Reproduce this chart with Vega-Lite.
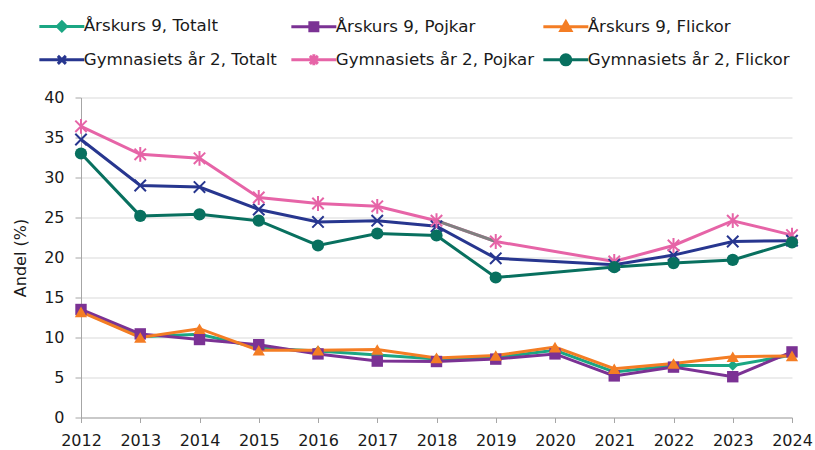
{
  "$schema": "https://vega.github.io/schema/vega-lite/v6.json",
  "autosize": {"type": "none"},
  "width": 711,
  "height": 320,
  "padding": {"left": 81, "top": 97.5, "right": 23, "bottom": 32.5},
  "background": "white",
  "config": {
    "font": "DejaVu Sans",
    "view": {"stroke": null},
    "axis": {"labelFont": "DejaVu Sans", "titleFont": "DejaVu Sans", "labelColor": "#1a1a1a", "titleColor": "#1a1a1a"}
  },
  "data": {
    "values": [
      {"year": 2012, "serie": "Årskurs 9, Totalt", "value": 13.3},
      {"year": 2013, "serie": "Årskurs 9, Totalt", "value": 10.1},
      {"year": 2014, "serie": "Årskurs 9, Totalt", "value": 10.4},
      {"year": 2015, "serie": "Årskurs 9, Totalt", "value": 8.7},
      {"year": 2016, "serie": "Årskurs 9, Totalt", "value": 8.3},
      {"year": 2017, "serie": "Årskurs 9, Totalt", "value": 7.8},
      {"year": 2018, "serie": "Årskurs 9, Totalt", "value": 7.3},
      {"year": 2019, "serie": "Årskurs 9, Totalt", "value": 7.5},
      {"year": 2020, "serie": "Årskurs 9, Totalt", "value": 8.4},
      {"year": 2021, "serie": "Årskurs 9, Totalt", "value": 5.7},
      {"year": 2022, "serie": "Årskurs 9, Totalt", "value": 6.5},
      {"year": 2023, "serie": "Årskurs 9, Totalt", "value": 6.5},
      {"year": 2024, "serie": "Årskurs 9, Totalt", "value": 7.8},
      {"year": 2012, "serie": "Årskurs 9, Pojkar", "value": 13.5},
      {"year": 2013, "serie": "Årskurs 9, Pojkar", "value": 10.45},
      {"year": 2014, "serie": "Årskurs 9, Pojkar", "value": 9.75},
      {"year": 2015, "serie": "Årskurs 9, Pojkar", "value": 9.1},
      {"year": 2016, "serie": "Årskurs 9, Pojkar", "value": 7.95},
      {"year": 2017, "serie": "Årskurs 9, Pojkar", "value": 7.05},
      {"year": 2018, "serie": "Årskurs 9, Pojkar", "value": 7.0},
      {"year": 2019, "serie": "Årskurs 9, Pojkar", "value": 7.3},
      {"year": 2020, "serie": "Årskurs 9, Pojkar", "value": 7.95},
      {"year": 2021, "serie": "Årskurs 9, Pojkar", "value": 5.2},
      {"year": 2022, "serie": "Årskurs 9, Pojkar", "value": 6.3},
      {"year": 2023, "serie": "Årskurs 9, Pojkar", "value": 5.1},
      {"year": 2024, "serie": "Årskurs 9, Pojkar", "value": 8.2},
      {"year": 2012, "serie": "Årskurs 9, Flickor", "value": 13.2},
      {"year": 2013, "serie": "Årskurs 9, Flickor", "value": 10.0},
      {"year": 2014, "serie": "Årskurs 9, Flickor", "value": 11.1},
      {"year": 2015, "serie": "Årskurs 9, Flickor", "value": 8.4},
      {"year": 2016, "serie": "Årskurs 9, Flickor", "value": 8.4},
      {"year": 2017, "serie": "Årskurs 9, Flickor", "value": 8.5},
      {"year": 2018, "serie": "Årskurs 9, Flickor", "value": 7.45},
      {"year": 2019, "serie": "Årskurs 9, Flickor", "value": 7.75},
      {"year": 2020, "serie": "Årskurs 9, Flickor", "value": 8.8},
      {"year": 2021, "serie": "Årskurs 9, Flickor", "value": 6.1},
      {"year": 2022, "serie": "Årskurs 9, Flickor", "value": 6.75},
      {"year": 2023, "serie": "Årskurs 9, Flickor", "value": 7.6},
      {"year": 2024, "serie": "Årskurs 9, Flickor", "value": 7.7},
      {"year": 2012, "serie": "Gymnasiets år 2, Totalt", "value": 34.75},
      {"year": 2013, "serie": "Gymnasiets år 2, Totalt", "value": 29.0},
      {"year": 2014, "serie": "Gymnasiets år 2, Totalt", "value": 28.8},
      {"year": 2015, "serie": "Gymnasiets år 2, Totalt", "value": 26.0},
      {"year": 2016, "serie": "Gymnasiets år 2, Totalt", "value": 24.45},
      {"year": 2017, "serie": "Gymnasiets år 2, Totalt", "value": 24.6},
      {"year": 2018, "serie": "Gymnasiets år 2, Totalt", "value": 23.9},
      {"year": 2019, "serie": "Gymnasiets år 2, Totalt", "value": 19.9},
      {"year": 2021, "serie": "Gymnasiets år 2, Totalt", "value": 19.1},
      {"year": 2022, "serie": "Gymnasiets år 2, Totalt", "value": 20.3},
      {"year": 2023, "serie": "Gymnasiets år 2, Totalt", "value": 22.0},
      {"year": 2024, "serie": "Gymnasiets år 2, Totalt", "value": 22.1},
      {"year": 2012, "serie": "Gymnasiets år 2, Pojkar", "value": 36.4},
      {"year": 2013, "serie": "Gymnasiets år 2, Pojkar", "value": 32.9},
      {"year": 2014, "serie": "Gymnasiets år 2, Pojkar", "value": 32.4},
      {"year": 2015, "serie": "Gymnasiets år 2, Pojkar", "value": 27.5},
      {"year": 2016, "serie": "Gymnasiets år 2, Pojkar", "value": 26.75},
      {"year": 2017, "serie": "Gymnasiets år 2, Pojkar", "value": 26.4},
      {"year": 2018, "serie": "Gymnasiets år 2, Pojkar", "value": 24.6},
      {"year": 2019, "serie": "Gymnasiets år 2, Pojkar", "value": 22.0},
      {"year": 2021, "serie": "Gymnasiets år 2, Pojkar", "value": 19.5},
      {"year": 2022, "serie": "Gymnasiets år 2, Pojkar", "value": 21.5},
      {"year": 2023, "serie": "Gymnasiets år 2, Pojkar", "value": 24.6},
      {"year": 2024, "serie": "Gymnasiets år 2, Pojkar", "value": 22.8},
      {"year": 2012, "serie": "Gymnasiets år 2, Flickor", "value": 33.0},
      {"year": 2013, "serie": "Gymnasiets år 2, Flickor", "value": 25.2},
      {"year": 2014, "serie": "Gymnasiets år 2, Flickor", "value": 25.4},
      {"year": 2015, "serie": "Gymnasiets år 2, Flickor", "value": 24.6},
      {"year": 2016, "serie": "Gymnasiets år 2, Flickor", "value": 21.5},
      {"year": 2017, "serie": "Gymnasiets år 2, Flickor", "value": 23.0},
      {"year": 2018, "serie": "Gymnasiets år 2, Flickor", "value": 22.75},
      {"year": 2019, "serie": "Gymnasiets år 2, Flickor", "value": 17.5},
      {"year": 2021, "serie": "Gymnasiets år 2, Flickor", "value": 18.8},
      {"year": 2022, "serie": "Gymnasiets år 2, Flickor", "value": 19.3},
      {"year": 2023, "serie": "Gymnasiets år 2, Flickor", "value": 19.7},
      {"year": 2024, "serie": "Gymnasiets år 2, Flickor", "value": 21.9}
    ]
  },
  "encoding": {
    "x": {
      "field": "year", "type": "quantitative",
      "scale": {"domain": [2012, 2024], "nice": false, "zero": false},
      "axis": {
        "title": null, "values": [2012,2013,2014,2015,2016,2017,2018,2019,2020,2021,2022,2023,2024],
        "format": "d", "grid": false, "domainColor": "#a6a6a6", "tickColor": "#a6a6a6",
        "tickSize": 5, "labelFontSize": 16, "labelPadding": 10, "labelFlush": false, "labelOverlap": false
      }
    },
    "y": {
      "field": "value", "type": "quantitative",
      "scale": {"domain": [0, 40], "nice": false},
      "axis": {
        "title": "Andel (%)", "titleFontSize": 16, "titleFontWeight": "normal", "titlePadding": 15,
        "values": [0,5,10,15,20,25,30,35,40], "gridColor": "#d9d9d9", "domainColor": "#a6a6a6",
        "tickColor": "#a6a6a6", "tickSize": 6, "labelFontSize": 16, "labelPadding": 11
      }
    }
  },
  "layer": [
    {
      "transform": [{"filter": "datum.year === 2012"}],
      "mark": {"type": "point", "filled": true, "size": 100, "strokeWidth": 3, "opacity": 0},
      "encoding": {
        "fill": {
          "field": "serie", "type": "nominal",
          "scale": {
            "domain": ["Årskurs 9, Totalt", "Årskurs 9, Pojkar", "Årskurs 9, Flickor", "Gymnasiets år 2, Totalt", "Gymnasiets år 2, Pojkar", "Gymnasiets år 2, Flickor"],
            "range": ["#1ba683", "#7b3294", "#f47d24", "#27368f", "#e664a7", "#08705f"]
          },
          "legend": {
            "title": null, "orient": "none", "legendX": -27.5, "legendY": -80, "direction": "horizontal",
            "columns": 3, "gridAlign": "all", "columnPadding": -2, "rowPadding": 10, "padding": 0,
            "symbolSize": 100, "symbolStrokeWidth": 3, "symbolOpacity": 1, "labelOffset": 13.5,
            "labelFontSize": 16.7, "labelFont": "DejaVu Sans", "labelColor": "#1a1a1a", "labelLimit": 400
          }
        },
        "stroke": {
          "field": "serie", "type": "nominal",
          "scale": {
            "domain": ["Årskurs 9, Totalt", "Årskurs 9, Pojkar", "Årskurs 9, Flickor", "Gymnasiets år 2, Totalt", "Gymnasiets år 2, Pojkar", "Gymnasiets år 2, Flickor"],
            "range": ["#1ba683", "#7b3294", "#f47d24", "#27368f", "#e664a7", "#08705f"]
          },
          "legend": {
            "title": null, "orient": "none", "legendX": -27.5, "legendY": -80, "direction": "horizontal",
            "columns": 3, "gridAlign": "all", "columnPadding": -2, "rowPadding": 10, "padding": 0,
            "symbolSize": 100, "symbolStrokeWidth": 3, "symbolOpacity": 1, "labelOffset": 13.5,
            "labelFontSize": 16.7, "labelFont": "DejaVu Sans", "labelColor": "#1a1a1a", "labelLimit": 400
          }
        },
        "shape": {
          "field": "serie", "type": "nominal",
          "scale": {
            "domain": ["Årskurs 9, Totalt", "Årskurs 9, Pojkar", "Årskurs 9, Flickor", "Gymnasiets år 2, Totalt", "Gymnasiets år 2, Pojkar", "Gymnasiets år 2, Flickor"],
            "range": [
              "M-4.5,0L4.5,0M0,-0.9L0.9,0L0,0.9L-0.9,0Z",
              "M-4.5,0L4.5,0M-0.8,-0.8L0.8,-0.8L0.8,0.8L-0.8,0.8Z",
              "M-4.5,0L4.5,0M0,-1L1,0.75L-1,0.75Z",
              "M-4.5,0L4.5,0M-0.8,-0.8L0.8,0.8M-0.8,0.8L0.8,-0.8",
              "M-4.5,0L4.5,0M-0.8,-0.8L0.8,0.8M-0.8,0.8L0.8,-0.8M0,-1.1L0,1.1",
              "M-4.5,0L4.5,0M1,0A1,1,0,1,1,-1,0A1,1,0,1,1,1,0Z"
            ]
          },
          "legend": {
            "title": null, "orient": "none", "legendX": -27.5, "legendY": -80, "direction": "horizontal",
            "columns": 3, "gridAlign": "all", "columnPadding": -2, "rowPadding": 10, "padding": 0,
            "symbolSize": 100, "symbolStrokeWidth": 3, "symbolOpacity": 1, "labelOffset": 13.5,
            "labelFontSize": 16.7, "labelFont": "DejaVu Sans", "labelColor": "#1a1a1a", "labelLimit": 400
          }
        }
      }
    },
    {
      "mark": {"type": "line", "strokeWidth": 3},
      "encoding": {
        "color": {
          "field": "serie", "type": "nominal", "legend": null,
          "scale": {
            "domain": ["Årskurs 9, Totalt", "Årskurs 9, Pojkar", "Årskurs 9, Flickor", "Gymnasiets år 2, Totalt", "Gymnasiets år 2, Pojkar", "Gymnasiets år 2, Flickor"],
            "range": ["#1ba683", "#7b3294", "#f47d24", "#27368f", "#e664a7", "#08705f"]
          }
        }
      }
    },
    {
      "transform": [{"filter": "datum.serie === 'Gymnasiets år 2, Pojkar' && (datum.year === 2018 || datum.year === 2019)"}],
      "mark": {"type": "line", "strokeWidth": 3, "color": "#808080"},
      "encoding": {}
    },
    {
      "transform": [{"filter": "datum.serie === 'Årskurs 9, Totalt'"}],
      "mark": {"type": "point", "shape": "diamond", "size": 110, "filled": true, "opacity": 1, "color": "#1ba683"}
    },
    {
      "transform": [{"filter": "datum.serie === 'Årskurs 9, Pojkar'"}],
      "mark": {"type": "point", "shape": "square", "size": 130, "filled": true, "opacity": 1, "color": "#7b3294"}
    },
    {
      "transform": [{"filter": "datum.serie === 'Årskurs 9, Flickor'"}],
      "mark": {"type": "point", "shape": "triangle-up", "size": 150, "filled": true, "opacity": 1, "color": "#f47d24"}
    },
    {
      "transform": [{"filter": "datum.serie === 'Gymnasiets år 2, Totalt'"}],
      "mark": {"type": "point", "shape": "M-1,-1L1,1M-1,1L1,-1", "size": 130, "filled": false, "opacity": 1, "strokeWidth": 2, "color": "#27368f"}
    },
    {
      "transform": [{"filter": "datum.serie === 'Gymnasiets år 2, Pojkar'"}],
      "mark": {"type": "point", "shape": "M-1,-1L1,1M-1,1L1,-1M0,-1.3L0,1.3", "size": 130, "filled": false, "opacity": 1, "strokeWidth": 2, "color": "#e664a7"}
    },
    {
      "transform": [{"filter": "datum.serie === 'Gymnasiets år 2, Flickor'"}],
      "mark": {"type": "point", "shape": "circle", "size": 150, "filled": true, "opacity": 1, "color": "#08705f"}
    }
  ]
}
